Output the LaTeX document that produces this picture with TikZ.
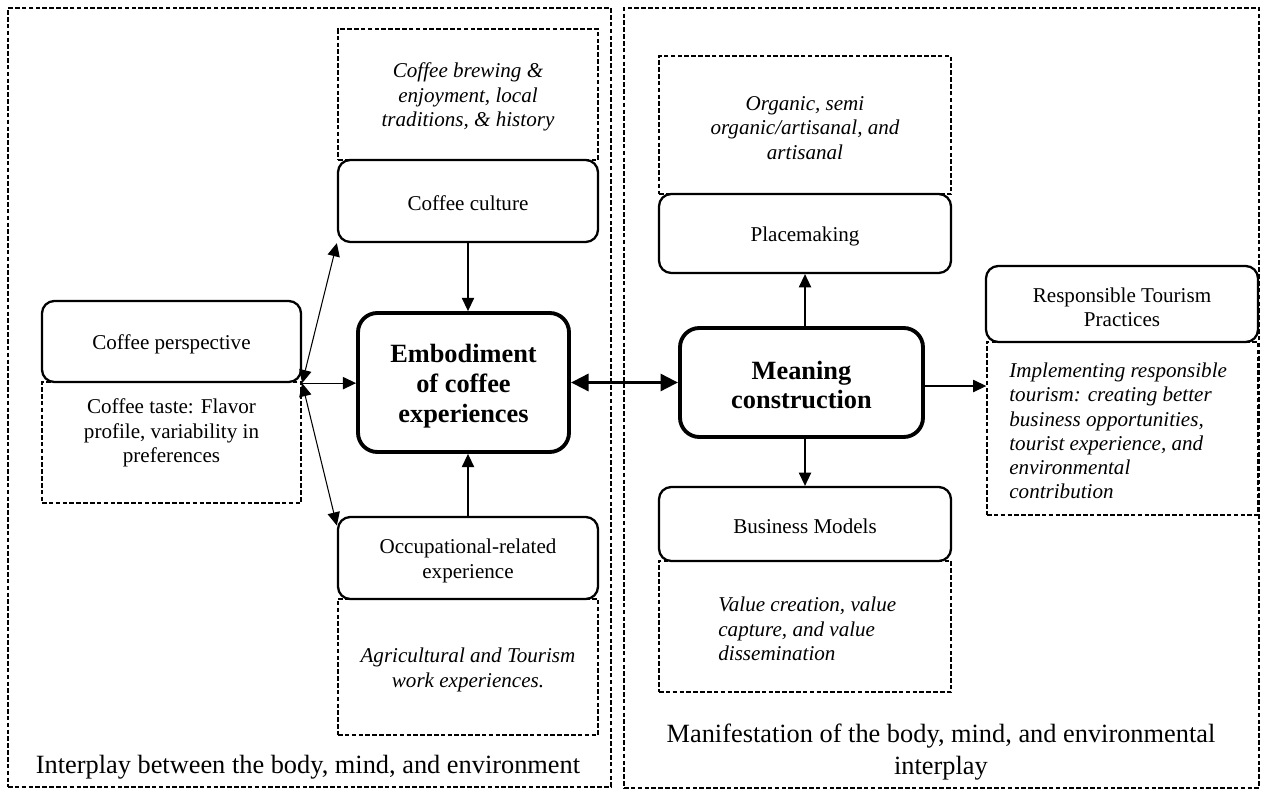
\documentclass[tikz,border=0pt]{standalone}
\usepackage{fontspec}
\setmainfont{Liberation Serif}
\usetikzlibrary{fit,arrows.meta,calc}

\newcommand\plainsz{\fontsize{12}{13.8}\selectfont}
\newcommand\headsz{\fontsize{15}{17}\selectfont\bfseries}
\newcommand\capsz{\fontsize{15}{18}\selectfont}

\begin{document}
\begin{tikzpicture}[x=0.02cm,y=-0.02cm,
  region/.style={draw, line width=0.8pt, dash pattern=on 2.6pt off 1.3pt, inner sep=0pt},
  notebox/.style={draw, line width=0.8pt, dash pattern=on 2.6pt off 1.3pt, inner sep=0pt},
  plainbox/.style={draw, line width=1.3pt, rounded corners=7pt, inner sep=0pt, fill=white},
  corebox/.style={draw, line width=2.2pt, rounded corners=11pt, inner sep=0pt, fill=white},
  plaintxt/.style={inner sep=0pt, align=center, font=\plainsz},
  notetxt/.style={inner sep=0pt, align=center, font=\plainsz\itshape},
  leftnote/.style={inner sep=0pt, align=left, font=\plainsz\itshape, anchor=west},
  coretxt/.style={inner sep=0pt, align=center, font=\headsz},
  caption/.style={inner sep=0pt, align=center, font=\capsz},
  link/.style={line width=0.6pt, -{Triangle[length=7.5pt,width=7pt]}},
  duallink/.style={line width=0.6pt, {Triangle[length=7.5pt,width=7pt]}-{Triangle[length=7.5pt,width=7pt]}},
  biglink/.style={line width=2.2pt, {Triangle[length=10pt,width=9.5pt]}-{Triangle[length=10pt,width=9.5pt]}}
]
\useasboundingbox (0,0) rectangle (1262,790);

% the two framing zones
\node[region, fit={(8,8)(611,787)}] (leftzone) {};
\node[region, fit={(624,8)(1259,788)}] (rightzone) {};
\node[caption] (leftcap) at (308,767) {Interplay between the body, mind, and environment};
\node[caption] (rightcap) at (941,752) {Manifestation of the body, mind, and environmental\\interplay};

% left zone: descriptive notes
\node[notebox, fit={(338,29)(598,160)}] (brewing) {};
\node[notetxt] (brewingtxt) at (468,97) {Coffee brewing \&\\enjoyment, local\\traditions, \& history};
\node[notebox, fit={(338,599)(598,735)}] (agri) {};
\node[notetxt] (agritxt) at (468,670) {Agricultural and Tourism\\work experiences.};
\node[notebox, fit={(42,382)(301,503)}] (tastebox) {};
\node[plaintxt] (taste) at (171.5,433) {Coffee taste: Flavor\\profile, variability in\\preferences};

% left zone: dimensions
\node[plainbox, fit={(338,160)(598,242)}] (culture) {};
\node[plaintxt] (culturetxt) at (468,203) {Coffee culture};
\node[plainbox, fit={(338,517)(598,599)}] (occ) {};
\node[plaintxt] (occtxt) at (468,561) {Occupational-related\\experience};
\node[plainbox, fit={(42,301)(301,382)}] (persp) {};
\node[plaintxt] (persptxt) at (171.5,344) {Coffee perspective};
\node[corebox, fit={(358,313)(569,452)}] (embod) {};
\node[coretxt] (embodtxt) at (463.5,386) {Embodiment\\of coffee\\experiences};

% right zone: descriptive notes
\node[notebox, fit={(659,56)(951,194)}] (organic) {};
\node[notetxt] (organictxt) at (805,128) {Organic, semi\\organic/artisanal, and\\artisanal};
\node[notebox, fit={(659,561)(951,692)}] (valuebox) {};
\node[leftnote] (value) at (718,629) {Value creation, value\\capture, and value\\dissemination};
\node[notebox, fit={(987,342)(1258,515)}] (implbox) {};
\node[leftnote] (impl) at (1009,431)
  {Implementing responsible\\tourism: creating better\\business opportunities,\\tourist experience, and\\environmental\\contribution};

% right zone: dimensions
\node[plainbox, fit={(659,194)(951,273)}] (place) {};
\node[plaintxt] (placetxt) at (805,236) {Placemaking};
\node[plainbox, fit={(659,487)(951,561)}] (biz) {};
\node[plaintxt] (biztxt) at (805,526) {Business Models};
\node[plainbox, fit={(986,266)(1258,342)}] (resp) {};
\node[plaintxt] (resptxt) at (1122,307) {Responsible Tourism\\Practices};
\node[corebox, fit={(680,328)(923,437)}] (meaning) {};
\node[coretxt] (meaningtxt) at (801.5,385) {Meaning\\construction};

% connectors
\coordinate (hub) at (persp.south east);
\draw[link] (culture.south) -- (culture.south |- embod.north);
\draw[link] (occ.north) -- (occ.north |- embod.south);
\draw[link] (hub) -- (hub -| embod.west);
\draw[duallink] (hub) -- (culture.south west);
\draw[duallink] (hub) -- ([yshift=-5.5pt]occ.north west);
\draw[biglink] (embod.east) -- (meaning.west);
\draw[link] ([xshift=2pt]meaning.north) -- ([xshift=2pt]meaning.north |- place.south);
\draw[link] ([xshift=2pt]meaning.south) -- ([xshift=2pt]meaning.south |- biz.north);
\draw[link] ([yshift=-2pt]meaning.east) -- ([yshift=-2pt]meaning.east -| implbox.west);
\end{tikzpicture}
\end{document}
